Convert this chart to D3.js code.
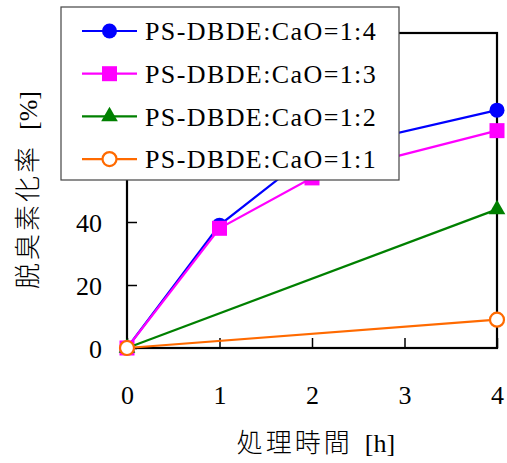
<!DOCTYPE html>
<html>
<head>
<meta charset="utf-8">
<script src="https://cdn.jsdelivr.net/npm/d3@7"></script>
<style>
  body { margin: 0; background: #fff; }
  text { font-family: "Liberation Serif", serif; }
</style>
</head>
<body>
<script>
// 処理時間 [h]
var hours = [0, 1, 2, 4];
var seriesNames = ["PS-DBDE:CaO=1:4", "PS-DBDE:CaO=1:3", "PS-DBDE:CaO=1:2", "PS-DBDE:CaO=1:1"];
// 脱臭素化率 [%]
var ratio14 = [0, 39, 62, 75.5];
var ratio13 = [0, 38, 54, 69];
var ratio12 = [0, null, null, 44];
var ratio11 = [0, null, null, 9];
var xTicks = [0, 1, 2, 3, 4];
var yTicks = [0, 20, 40, 60, 80, 100];

var width = 507, height = 463;
var svg = d3.select("body").append("svg")
  .attr("width", width).attr("height", height);

var x = d3.scaleLinear().domain([0, 4]).range([127, 497]);
var y = d3.scaleLinear().domain([0, 100]).range([348, 33]);

// axes (inward ticks)
var xAxis = svg.append("g").attr("transform", "translate(0,348)")
  .call(d3.axisBottom(x).tickValues(xTicks).tickFormat(d3.format("d")).tickSizeInner(-10).tickSizeOuter(0).tickPadding(38));
var yAxis = svg.append("g").attr("transform", "translate(127,0)")
  .call(d3.axisLeft(y).tickValues(yTicks).tickFormat(d3.format("d")).tickSizeInner(-10).tickSizeOuter(0).tickPadding(25));
[xAxis, yAxis].forEach(function(a){
  a.select(".domain").remove();
  a.selectAll("line").attr("stroke", "#000").attr("stroke-width", 1.5);
  a.selectAll("text").attr("font-size", 26).attr("font-family", "Liberation Serif").attr("fill", "#000");
});
yAxis.selectAll("text").attr("dy", "0.35em");

// frame
svg.append("rect").attr("x", 127).attr("y", 33).attr("width", 370).attr("height", 315)
  .attr("fill", "none").attr("stroke", "#000").attr("stroke-width", 2.2);

var series = [
  {name: seriesNames[0], values: ratio14, color: "#0000ff", shape: "circle"},
  {name: seriesNames[1], values: ratio13, color: "#ff00ff", shape: "square"},
  {name: seriesNames[2], values: ratio12, color: "#008000", shape: "triangle"},
  {name: seriesNames[3], values: ratio11, color: "#ff6a00", shape: "open"}
];

var line = d3.line().defined(function(d){ return d[1] != null; })
  .x(function(d){ return x(d[0]); }).y(function(d){ return y(d[1]); });

function drawMarker(g, s, cx, cy) {
  if (s.shape == "circle") {
    g.append("circle").attr("cx", cx).attr("cy", cy).attr("r", 7.5).attr("fill", s.color);
  } else if (s.shape == "square") {
    g.append("rect").attr("x", cx - 7.5).attr("y", cy - 7.5).attr("width", 15).attr("height", 15).attr("fill", s.color);
  } else if (s.shape == "triangle") {
    g.append("path").attr("transform", "translate(" + cx + "," + cy + ")")
      .attr("d", d3.symbol().type(d3.symbolTriangle).size(120)()).attr("fill", s.color);
  } else {
    g.append("circle").attr("cx", cx).attr("cy", cy).attr("r", 7).attr("fill", "#fff")
      .attr("stroke", s.color).attr("stroke-width", 2.2);
  }
}

series.forEach(function(s){
  var pts = hours.map(function(h, i){ return [h, s.values[i]]; }).filter(function(d){ return d[1] != null; });
  var g = svg.append("g");
  g.append("path").datum(pts).attr("d", line).attr("fill", "none")
    .attr("stroke", s.color).attr("stroke-width", 2.2);
  pts.forEach(function(d){ drawMarker(g, s, x(d[0]), y(d[1])); });
});

// legend
var lg = svg.append("g");
lg.append("rect").attr("x", 61).attr("y", 7).attr("width", 338).attr("height", 173)
  .attr("fill", "#fff").attr("stroke", "#444").attr("stroke-width", 1.2);
series.forEach(function(s, i){
  var cy = 31 + i * 42.7;
  lg.append("line").attr("x1", 82).attr("x2", 137).attr("y1", cy).attr("y2", cy)
    .attr("stroke", s.color).attr("stroke-width", 2.2);
  drawMarker(lg, s, 109.5, cy);
  lg.append("text").attr("x", 145).attr("y", cy).attr("dy", "0.35em")
    .attr("font-size", 26).attr("letter-spacing", 1.4).text(s.name);
});

// axis titles
var xt = svg.append("text").attr("x", 316).attr("y", 452).attr("text-anchor", "middle").attr("font-size", 26);
xt.append("tspan").attr("font-family", "Noto Sans CJK JP").attr("font-weight", 300).attr("letter-spacing", 3).text("処理時間");
xt.append("tspan").attr("dx", 12).text("[h]");

var yt = svg.append("text").attr("transform", "translate(28,190) rotate(-90)")
  .attr("text-anchor", "middle").attr("dy", "0.35em").attr("font-size", 26);
yt.append("tspan").attr("font-family", "Noto Sans CJK JP").attr("font-weight", 300).attr("letter-spacing", 3).text("脱臭素化率");
yt.append("tspan").attr("dx", 14).text("[%]");
</script>
</body>
</html>
